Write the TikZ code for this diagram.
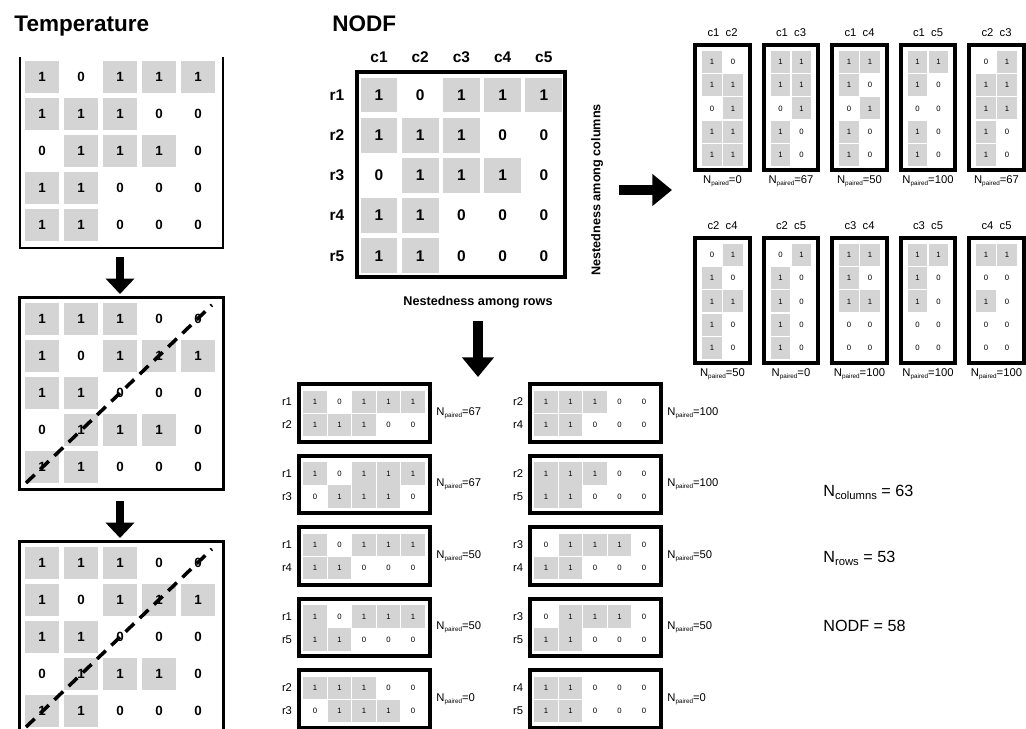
\documentclass[tikz,border=0pt]{standalone}
\usepackage{fontspec}
\setmainfont{Liberation Sans}
\usetikzlibrary{arrows.meta}
\definecolor{cellgray}{RGB}{212,212,212}

\begin{document}
\begin{tikzpicture}[x=0.025cm,y=-0.025cm,semithick]
  \tikzstyle{heading}=[font=\fontsize{16}{16}\selectfont\bfseries,inner sep=0pt]
  \tikzstyle{tcell}=[minimum width=24.5pt,minimum height=23pt,inner sep=0pt,
                     font=\fontsize{9.5}{10}\selectfont\bfseries]
  \tikzstyle{ncell}=[minimum width=26.2pt,minimum height=24.8pt,inner sep=0pt,
                     font=\fontsize{11}{11}\selectfont\bfseries]
  \tikzstyle{pcell}=[minimum width=14pt,minimum height=15.6pt,inner sep=0pt,
                     font=\fontsize{5.5}{5.5}\selectfont]
  \tikzstyle{rcell}=[minimum width=16.5pt,minimum height=15.8pt,inner sep=0pt,
                     font=\fontsize{5.5}{5.5}\selectfont]
  \tikzstyle{tframe}=[draw=black,line width=2pt]
  \tikzstyle{nframe}=[draw=black,line width=3pt,inner sep=0pt,
                      minimum width=147.4pt,minimum height=145.3pt]
  \tikzstyle{pbox}=[draw=black,line width=2.8pt,inner sep=0pt,
                    minimum width=39pt,minimum height=88.6pt]
  \tikzstyle{rbox}=[draw=black,line width=2.8pt,inner sep=0pt,
                    minimum width=92.8pt,minimum height=41pt]
  \tikzstyle{axislabel}=[font=\fontsize{11}{11}\selectfont\bfseries,inner sep=0pt]
  \tikzstyle{nestlabel}=[font=\fontsize{9}{9}\selectfont\bfseries,inner sep=0pt]
  \tikzstyle{pairlabel}=[font=\fontsize{8}{8}\selectfont,inner sep=0pt]
  \tikzstyle{nlabel}=[font=\fontsize{8}{8}\selectfont,inner sep=0pt]
  \tikzstyle{summary}=[font=\fontsize{11.5}{12}\selectfont,inner sep=0pt,anchor=west]
  \tikzstyle{bigarrow}=[line width=6pt,-{Triangle[length=11pt,width=20pt]}]
  \tikzstyle{widearrow}=[line width=6.5pt,-{Triangle[length=14pt,width=22pt]}]
  \tikzstyle{diagline}=[line width=2.5pt,dash pattern=on 8.5pt off 5.5pt]

  \useasboundingbox (0,0) rectangle (1026,729);

  %Temperature
  \node[heading,anchor=base west] (ttitle) at (14,32) {Temperature};
  \foreach \row [count=\i] in {{1,0,1,1,1},{1,1,1,0,0},{0,1,1,1,0},{1,1,0,0,0},{1,1,0,0,0}}
    \foreach \v [count=\j] in \row {
      \ifnum\v=1\relax\def\cc{cellgray}\else\def\cc{white}\fi
      \node[tcell,fill=\cc] (ta-\i-\j) at ({42+39*(\j-1)},{77+37*(\i-1)}) {\v};
    }
  \coordinate (ta-a) at (20,57);
  \coordinate (ta-b) at (20,248);
  \coordinate (ta-c) at (223,248);
  \coordinate (ta-d) at (223,57);
  \draw[tframe] (ta-a) -- (ta-b) -- (ta-c) -- (ta-d);

  %Temperature, sorted
  \foreach \m/\ty in {b/319,c/563}
    \foreach \row [count=\i] in {{1,1,1,0,0},{1,0,1,1,1},{1,1,0,0,0},{0,1,1,1,0},{1,1,0,0,0}}
      \foreach \v [count=\j] in \row {
        \ifnum\v=1\relax\def\cc{cellgray}\else\def\cc{white}\fi
        \node[tcell,fill=\cc] (t\m-\i-\j) at ({42+39*(\j-1)},{\ty+37*(\i-1)}) {\v};
      }
  \node[tframe,inner sep=0pt,minimum width=145.3pt,minimum height=136.8pt] (tb) at (121.5,393.5) {};
  \node[tframe,inner sep=0pt,minimum width=145.3pt,minimum height=144.6pt] (tc) at (121.5,643) {};
  \coordinate (tb-s) at (26,483);
  \coordinate (tb-e) at (212,305);
  \coordinate (tc-s) at (26,727);
  \coordinate (tc-e) at (212,549);
  \draw[diagline] (tb-s) -- (tb-e);
  \draw[diagline] (tc-s) -- (tc-e);

  \coordinate (a1s) at (120,257);
  \coordinate (a1e) at (120,294);
  \coordinate (a2s) at (120,501);
  \coordinate (a2e) at (120,538);
  \draw[bigarrow] (a1s) -- (a1e);
  \draw[bigarrow] (a2s) -- (a2e);

  %NODF
  \node[heading,anchor=base west] (ntitle) at (332,32) {NODF};
  \foreach \j in {1,...,5}
    \node[axislabel] (col\j) at ({379+41.2*(\j-1)},57) {c\j};
  \foreach \i in {1,...,5}
    \node[axislabel] (row\i) at (337,{95+40.2*(\i-1)}) {r\i};
  \foreach \row [count=\i] in {{1,0,1,1,1},{1,1,1,0,0},{0,1,1,1,0},{1,1,0,0,0},{1,1,0,0,0}}
    \foreach \v [count=\j] in \row {
      \ifnum\v=1\relax\def\cc{cellgray}\else\def\cc{white}\fi
      \node[ncell,fill=\cc] (n-\i-\j) at ({379+41.2*(\j-1)},{95+40.2*(\i-1)}) {\v};
    }
  \node[nframe] (nbox) at (461,174.5) {};
  \node[nestlabel] (nrows) at (478,302) {Nestedness among rows};
  \node[nestlabel,rotate=90] (ncols) at (597,190) {Nestedness among columns};

  \coordinate (a3s) at (619,190);
  \coordinate (a3e) at (672,190);
  \coordinate (a4s) at (478,321);
  \coordinate (a4e) at (478,377);
  \draw[widearrow] (a3s) -- (a3e);
  \draw[widearrow] (a4s) -- (a4e);

  %pairs of columns
  \foreach \pa/\pb/\np [count=\k] in {1/2/0,1/3/67,1/4/50,1/5/100,2/3/67,
                                      2/4/50,2/5/0,3/4/100,3/5/100,4/5/100}{
    \pgfmathsetmacro{\boxx}{695+68.5*mod(\k-1,5)}
    \pgfmathsetmacro{\boxy}{ifthenelse(\k>5,238,45)}
    \node[pbox] (cb\k) at ({\boxx+27.5},{\boxy+62.5}) {};
    \node[pairlabel] (cl\k) at ({\boxx+27.5},{\boxy-12}) {c\pa\ \ c\pb};
    \node[nlabel] (cn\k) at ({\boxx+27.5},{\boxy+136})
      {N\raisebox{-1.2pt}{\fontsize{4.5}{5}\selectfont paired}=\np};
    \foreach \row [count=\i] in {{1,0,1,1,1},{1,1,1,0,0},{0,1,1,1,0},{1,1,0,0,0},{1,1,0,0,0}}
      \foreach \v [count=\j] in \row {
        \ifnum\v=1\relax\def\cc{cellgray}\else\def\cc{white}\fi
        \ifnum\j=\pa\relax
          \node[pcell,fill=\cc] (cp\k-\i-a) at ({\boxx+17},{\boxy+17+23.2*(\i-1)}) {\v};
        \fi
        \ifnum\j=\pb\relax
          \node[pcell,fill=\cc] (cp\k-\i-b) at ({\boxx+38},{\boxy+17+23.2*(\i-1)}) {\v};
        \fi
      }
  }

  %pairs of rows
  \foreach \ra/\rb/\np [count=\k] in {1/2/67,1/3/67,1/4/50,1/5/50,2/3/0,
                                      2/4/100,2/5/100,3/4/50,3/5/50,4/5/0}{
    \pgfmathsetmacro{\boxx}{ifthenelse(\k>5,530,299)}
    \pgfmathsetmacro{\boxy}{384+71.5*mod(\k-1,5)}
    \node[rbox] (rb\k) at ({\boxx+65.5},{\boxy+29}) {};
    \node[pairlabel] (rla\k) at ({\boxx-12},{\boxy+18}) {r\ra};
    \node[pairlabel] (rlb\k) at ({\boxx-12},{\boxy+41}) {r\rb};
    \node[nlabel,anchor=west] (rn\k) at ({\boxx+137},{\boxy+29})
      {N\raisebox{-1.2pt}{\fontsize{4.5}{5}\selectfont paired}=\np};
    \foreach \row [count=\i] in {{1,0,1,1,1},{1,1,1,0,0},{0,1,1,1,0},{1,1,0,0,0},{1,1,0,0,0}}
      \foreach \v [count=\j] in \row {
        \ifnum\v=1\relax\def\cc{cellgray}\else\def\cc{white}\fi
        \ifnum\i=\ra\relax
          \node[rcell,fill=\cc] (rp\k-a-\j) at ({\boxx+16+24.5*(\j-1)},{\boxy+18}) {\v};
        \fi
        \ifnum\i=\rb\relax
          \node[rcell,fill=\cc] (rp\k-b-\j) at ({\boxx+16+24.5*(\j-1)},{\boxy+41}) {\v};
        \fi
      }
  }

  %results
  \node[summary] (ncol) at (823,492)
    {N\raisebox{-2pt}{\fontsize{8}{8}\selectfont columns} = 63};
  \node[summary] (nrow) at (823,558)
    {N\raisebox{-2pt}{\fontsize{8}{8}\selectfont rows} = 53};
  \node[summary] (nodf) at (823,626) {NODF = 58};
\end{tikzpicture}
\end{document}
